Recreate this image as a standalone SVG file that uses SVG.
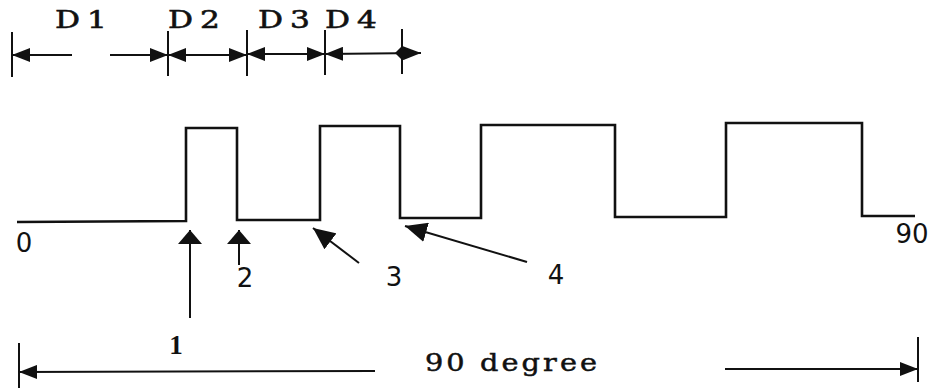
<svg xmlns="http://www.w3.org/2000/svg" width="936" height="390" viewBox="0 0 936 390">
<style>
.ln{stroke:#111;stroke-width:2;fill:none}
.wave{stroke:#111;stroke-width:2.6;fill:none;stroke-linejoin:miter}
.dl{font-family:"DejaVu Serif","Liberation Serif",serif;font-size:24px;fill:#111;stroke:#111;stroke-width:0.6}
.num{font-family:"DejaVu Sans","Liberation Sans",sans-serif;font-size:26px;fill:#111;text-anchor:middle}
.bold{font-family:"Liberation Serif","DejaVu Serif",serif;font-size:27px;font-weight:bold;fill:#111;text-anchor:middle}
.deg{font-family:"DejaVu Serif","Liberation Serif",serif;font-size:25px;fill:#111;stroke:#111;stroke-width:0.5}
</style>
<defs>
<marker id="dim" viewBox="0 -7 18 14" refX="18" refY="0" markerWidth="18" markerHeight="14" markerUnits="userSpaceOnUse" orient="auto-start-reverse">
<path d="M18,0 L0,-7 L0,7 z" fill="#111"/>
</marker>
<marker id="ptr" viewBox="0 -12 14 24" refX="14" refY="0" markerWidth="14" markerHeight="24" markerUnits="userSpaceOnUse" orient="auto">
<path d="M14,0 L0,-12 L0,12 z" fill="#111"/>
</marker>
<marker id="ptr2" viewBox="0 -10 22 20" refX="22" refY="0" markerWidth="22" markerHeight="20" markerUnits="userSpaceOnUse" orient="auto">
<path d="M22,0 L0,-10 L0,10 z" fill="#111"/>
</marker>
</defs>

<g id="top-dimensions">
<line class="ln" x1="12" y1="32" x2="12" y2="77"/>
<line class="ln" x1="168" y1="31" x2="168" y2="76"/>
<line class="ln" x1="247" y1="30" x2="247" y2="76"/>
<line class="ln" x1="325" y1="30" x2="325" y2="75"/>
<line class="ln" x1="402" y1="29" x2="402" y2="74"/>
<line class="ln" x1="12" y1="55" x2="72" y2="55" marker-start="url(#dim)"/>
<line class="ln" x1="110" y1="55" x2="168" y2="55" marker-end="url(#dim)"/>
<line class="ln" x1="168" y1="55" x2="247" y2="55" marker-start="url(#dim)" marker-end="url(#dim)"/>
<line class="ln" x1="247" y1="54" x2="325" y2="54" marker-start="url(#dim)" marker-end="url(#dim)"/>
<line class="ln" x1="325" y1="54" x2="421" y2="53" marker-start="url(#dim)" marker-end="url(#dim)"/>
<polygon points="395,53 402,46 409,53 402,60" fill="#111"/>
<text class="dl" transform="translate(55,28) scale(1.3,1)" textLength="40" lengthAdjust="spacing">D1</text>
<text class="dl" transform="translate(168,28) scale(1.3,1)" textLength="40" lengthAdjust="spacing">D2</text>
<text class="dl" transform="translate(258,28) scale(1.3,1)" textLength="40" lengthAdjust="spacing">D3</text>
<text class="dl" transform="translate(325,28) scale(1.3,1)" textLength="40" lengthAdjust="spacing">D4</text>
</g>

<g id="waveform">
<polyline class="wave" points="17,222 186,221 186,128 237,128 237,220 320,220 320,126 400,126 400,218 481,218 481,125 615,125 615,217 726,217 726,123 862,123 862,216 915,216"/>
<text class="num" x="24" y="252">0</text>
<text class="num" x="912" y="243">90</text>
</g>

<g id="pointers">
<line class="ln" x1="190" y1="318" x2="190" y2="230" marker-end="url(#ptr)"/>
<line class="ln" x1="239" y1="265" x2="239" y2="230" marker-end="url(#ptr)"/>
<line class="ln" x1="359" y1="263" x2="313" y2="228" marker-end="url(#ptr2)"/>
<line class="ln" x1="527" y1="262" x2="405" y2="226" marker-end="url(#ptr2)"/>
</g>

<g id="pointer-labels">
<text class="bold" x="176" y="354">1</text>
<text class="num" x="245" y="287">2</text>
<text class="num" x="394" y="286">3</text>
<text class="num" x="556" y="284">4</text>
</g>

<g id="bottom-dimension">
<line class="ln" x1="19" y1="343" x2="19" y2="388"/>
<line class="ln" x1="918" y1="337" x2="918" y2="382"/>
<line class="ln" x1="19" y1="372" x2="375" y2="371" marker-start="url(#dim)"/>
<line class="ln" x1="725" y1="369" x2="918" y2="369" marker-end="url(#dim)"/>
<text class="deg" transform="translate(425,371) scale(1.15,1)" textLength="149.6" lengthAdjust="spacing">90 degree</text>
</g>
</svg>
